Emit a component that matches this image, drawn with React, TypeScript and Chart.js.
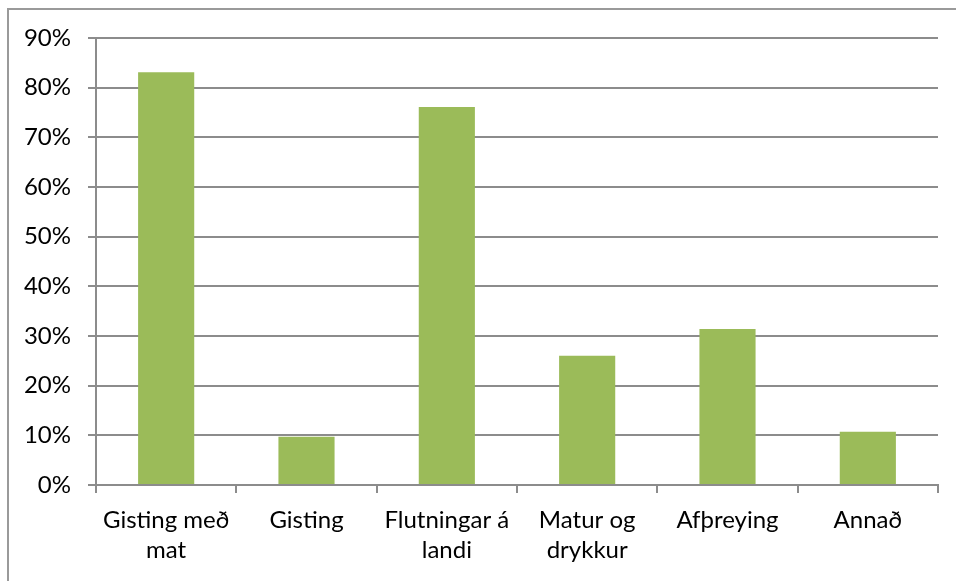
import React, { useEffect, useRef } from "react";
import { Chart, registerables } from "chart.js";

Chart.register(...registerables);

const categories: (string | string[])[] = [
  ["Gisting með", "mat"],
  "Gisting",
  ["Flutningar á", "landi"],
  ["Matur og", "drykkur"],
  "Afþreying",
  "Annað",
];
const values: number[] = [83.1, 9.7, 76.1, 26.0, 31.4, 10.7];
const yMin = 0;
const yMax = 90;
const yStep = 10;

export default function App() {
  const ref = useRef<HTMLCanvasElement | null>(null);

  useEffect(() => {
    document.body.style.margin = "0";
    const ctx = ref.current!.getContext("2d")!;
    const xFont = { family: "Lato, 'Open Sans', sans-serif", size: 24, lineHeight: 1.25 };
    const yFont = { family: "Lato, 'Open Sans', sans-serif", size: 24 };
    const chart = new Chart(ctx, {
      type: "bar",
      data: {
        labels: categories,
        datasets: [
          {
            data: values,
            backgroundColor: "#9BBB59",
            borderWidth: 0,
            barPercentage: 0.4,
            categoryPercentage: 1,
          },
        ],
      },
      options: {
        animation: false,
        responsive: false,
        maintainAspectRatio: false,
        layout: { padding: { top: 38, right: 18, left: 0, bottom: 0 } },
        plugins: { legend: { display: false }, tooltip: { enabled: false } },
        scales: {
          x: {
            afterFit: (s: any) => {
              s.height = 96;
            },
            grid: {
              offset: true,
              drawOnChartArea: false,
              drawTicks: true,
              tickLength: 8,
              color: "#8c8c8c",
              lineWidth: 2,
            },
            border: { display: true, color: "#8c8c8c", width: 2 },
            ticks: {
              color: "#000",
              font: xFont,
              padding: 12,
              maxRotation: 0,
              autoSkip: false,
            },
          },
          y: {
            min: yMin,
            max: yMax,
            afterFit: (s: any) => {
              s.width = 96;
            },
            grid: {
              color: "#8c8c8c",
              lineWidth: 2,
              tickLength: 8,
            },
            border: { display: true, color: "#8c8c8c", width: 2 },
            ticks: {
              stepSize: yStep,
              color: "#000",
              font: yFont,
              padding: 17,
              callback: (v: any) => v + "%",
            },
          },
        },
      },
    });
    return () => chart.destroy();
  }, []);

  return (
    <div style={{ position: "relative", width: 956, height: 581, background: "#fff", overflow: "hidden" }}>
      <canvas ref={ref} width={956} height={581} style={{ position: "absolute", left: 0, top: 0 }} />
      <div
        style={{
          position: "absolute",
          left: 7,
          top: 8,
          width: 1000,
          height: 700,
          borderTop: "2px solid #9a9a9a",
          borderLeft: "2px solid #9a9a9a",
          pointerEvents: "none",
        }}
      />
    </div>
  );
}
